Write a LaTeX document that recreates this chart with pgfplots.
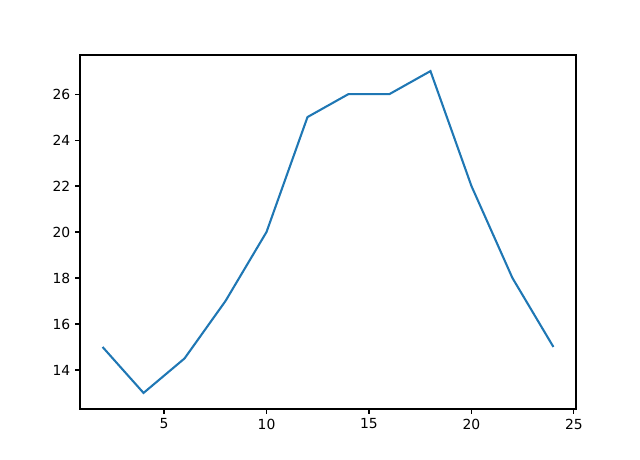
\documentclass[border=0pt]{standalone}
\usepackage{fontspec}
\setmainfont{DejaVu Sans}
\usepackage{pgfplots}
\pgfplotsset{compat=1.18}
\definecolor{mplblue}{HTML}{1F77B4}
\begin{document}
\begin{tikzpicture}
\path[use as bounding box] (0,0) rectangle (460.8pt,330.5pt);
\begin{axis}[
  at={(57.6pt,36pt)}, anchor=south west,
  scale only axis, width=357.1pt, height=254.9pt,
  xmin=0.9, xmax=25.1, ymin=12.3, ymax=27.7,
  xtick={5,10,15,20,25}, ytick={14,16,18,20,22,24,26},
  tick align=outside, tick pos=left,
  major tick length=3.5pt,
  every tick/.style={black, line width=0.8pt},
  axis line style={line width=0.8pt},
  tick label style={font=\fontsize{10pt}{12pt}\selectfont},
  /pgf/number format/assume math mode=true,
]
\addplot[mplblue, line width=1.5pt] coordinates {
  (2,15) (4,13) (6,14.5) (8,17) (10,20) (12,25)
  (14,26) (16,26) (18,27) (20,22) (22,18) (24,15)
};
\end{axis}
\end{tikzpicture}
\end{document}
